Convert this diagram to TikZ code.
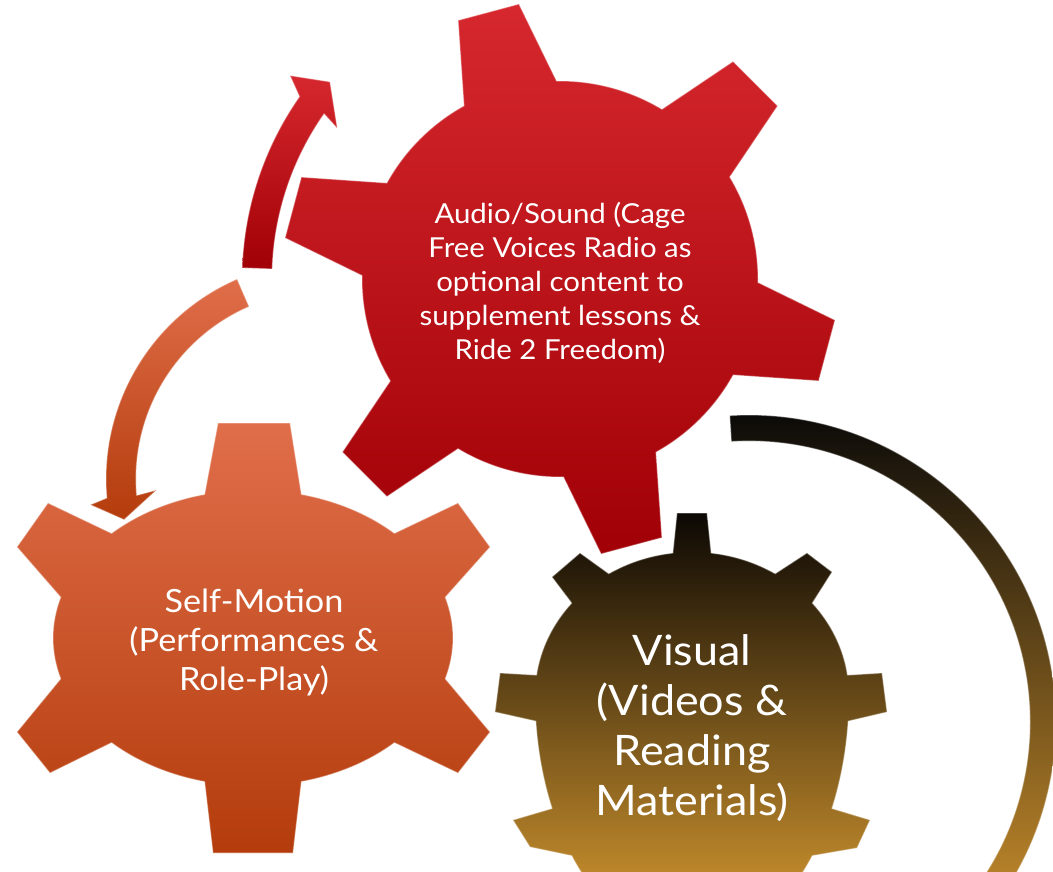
\documentclass[tikz,border=0pt]{standalone}
\usepackage{fontspec}
\setmainfont{Lato}[FakeStretch=1.07]
\definecolor{rdTop}{RGB}{214,40,46}
\definecolor{rdBot}{RGB}{160,0,6}
\definecolor{orTop}{RGB}{224,110,74}
\definecolor{orBot}{RGB}{180,60,12}
\definecolor{viTop}{RGB}{12,8,4}
\definecolor{viMid}{RGB}{110,74,24}
\definecolor{viBot}{RGB}{229,164,51}
\definecolor{bkTop}{RGB}{8,8,8}
\definecolor{bkMid}{RGB}{125,85,27}
\definecolor{bkBot}{RGB}{205,145,45}
\tikzset{
  gtext/.style={text=white, align=center, inner sep=0pt},
  bevel/.style={draw=white, draw opacity=0.35, line width=1.2pt, line join=round},
}
\begin{document}
\begin{tikzpicture}[x=1pt,y=1pt]
\useasboundingbox (0,0) rectangle (1053,-872);
\fill[white] (0,0) rectangle (1053,-872);

% orange gear
\begin{scope}[shift={(253,-638)}]
\shadedraw[top color=orTop, bottom color=orBot, bevel]
 (104:200 and 148) -- (-35,215) -- (37,215) -- (76:200 and 148)
 arc[start angle=76,end angle=45,x radius=200,y radius=148]
 -- (205,135) -- (237,91) -- (16:200 and 148)
 arc[start angle=16,end angle=-16,x radius=200,y radius=148]
 -- (237,-94) -- (205,-135) -- (-45:200 and 148)
 arc[start angle=-45,end angle=-76,x radius=200,y radius=148]
 -- (40,-215) -- (-40,-215) -- (-104:200 and 148)
 arc[start angle=-104,end angle=-135,x radius=200,y radius=148]
 -- (-203,-135) -- (-236,-94) -- (-164:200 and 148)
 arc[start angle=-164,end angle=-196,x radius=200,y radius=148]
 -- (-236,91) -- (-205,135) -- (135:200 and 148)
 arc[start angle=135,end angle=104,x radius=200,y radius=148] -- cycle;
\end{scope}

% visual gear (egg-shaped body: flatter top, longer bottom)
\begin{scope}[shift={(692,-695)}]
\shadedraw[top color=viTop, middle color=viMid, bottom color=viBot, bevel]
 (97:157 and 143) -- (-15,182) -- (15,182) -- (83:157 and 143)
 arc[start angle=83,end angle=58,x radius=157,y radius=143]
 -- (115,142) -- (140,123) -- (40:157 and 143)
 arc[start angle=40,end angle=8,x radius=157,y radius=143]
 -- (190,22) -- (195,-17) -- (-6:157 and 250)
 arc[start angle=-6,end angle=-27,x radius=157,y radius=250]
 -- (178,-125) -- (165,-153) -- (-40:157 and 250)
 arc[start angle=-40,end angle=-140,x radius=157,y radius=250]
 -- (-162,-152) -- (-179,-125) -- (-153:157 and 250)
 arc[start angle=-153,end angle=-174,x radius=157,y radius=250]
 -- (-197,-17) -- (-192,22) -- (172:157 and 143)
 arc[start angle=172,end angle=140,x radius=157,y radius=143]
 -- (-140,118) -- (-112,142) -- (122:157 and 143)
 arc[start angle=122,end angle=97,x radius=157,y radius=143] -- cycle;
\end{scope}

% red gear and red arrow
\begin{scope}[shift={(560,-279)}]
\shadedraw[top color=rdTop, bottom color=rdBot, bevel]
 (119:198) \foreach \a in {105,45,-15,-75,-135,-195} {
   -- (\a+6.5:278) -- (\a-6.5:278) -- (\a-14:198)
   arc[start angle=\a-14,end angle=\a-46,radius=198] } -- cycle;
\shadedraw[top color=rdTop, bottom color=rdBot, bevel]
 (178:318) arc[start angle=178,end angle=145,radius=318]
 -- (143:338) -- (139.4:303) -- (145.9:269) -- (145:288)
 arc[start angle=145,end angle=178,radius=288] -- cycle;
\end{scope}

% orange arrow
\begin{scope}[shift={(324,-479)}]
\shadedraw[top color=orTop, bottom color=orBot, bevel]
 (113.5:218) arc[start angle=113.5,end angle=185,radius=218]
 -- (186.3:235) -- (191.5:204) -- (183.8:168) -- (185:188)
 arc[start angle=185,end angle=113.5,radius=188] -- cycle;
\end{scope}

% black-gold arc
\begin{scope}[shift={(749,-722)}]
\shadedraw[top color=bkTop, middle color=bkMid, bottom color=bkBot, bevel]
 (93.6:307) arc[start angle=93.6,end angle=-45,radius=307]
 -- (-45:281) arc[start angle=-45,end angle=93.6,radius=281] -- cycle;
\end{scope}

\node[gtext, font=\fontsize{27.5}{34}\selectfont] (audio) at (560,-283)
 {Audio/Sound (Cage\\Free Voices Radio as\\optional content to\\supplement lessons \&\\Ride 2 Freedom)};
\node[gtext, font=\fontsize{32}{39}\selectfont] (self) at (254,-642)
 {Self-Motion\\(Performances \&\\Role-Play)};
\node[gtext, font=\fontsize{42}{50}\selectfont] (visual) at (692,-728)
 {Visual\\(Videos \&\\Reading\\Materials)};
\end{tikzpicture}
\end{document}
